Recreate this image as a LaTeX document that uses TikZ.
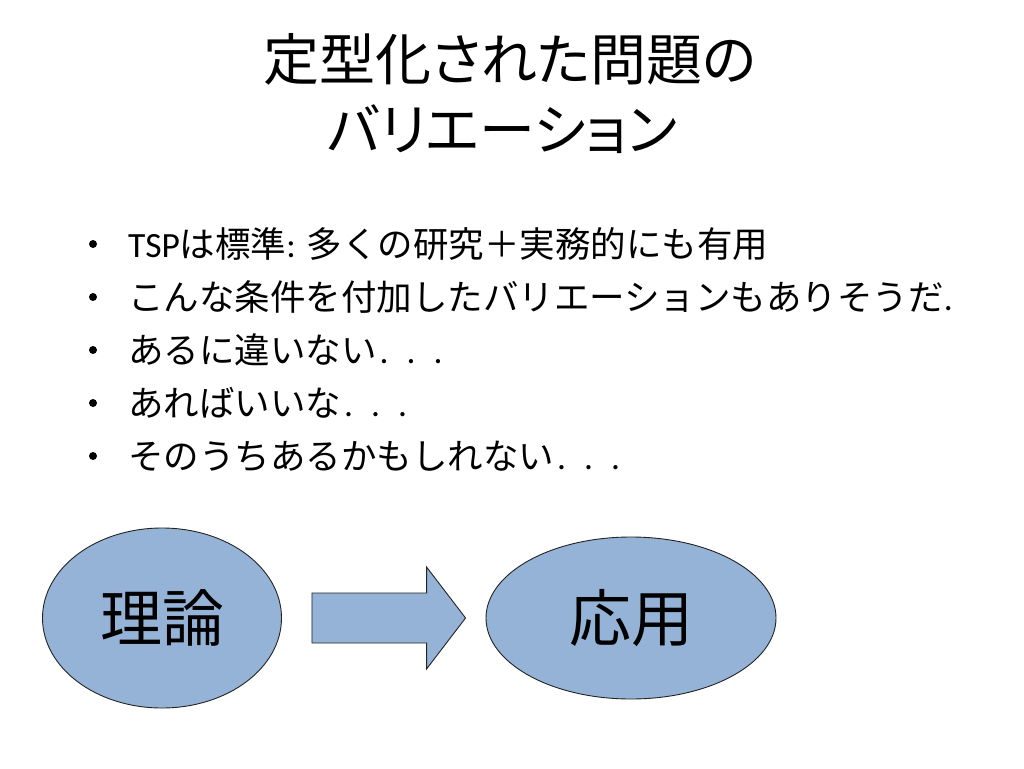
\documentclass[tikz,border=0pt]{standalone}
\usepackage{fontspec}
\setmainfont{Noto Sans CJK JP}
\newfontfamily\latin{Carlito}
\newfontfamily\headfont[RawFeature=+palt]{Noto Sans CJK JP}
\usetikzlibrary{calc,shapes.geometric}
\definecolor{ppblue}{RGB}{149,179,215}
\definecolor{ppline}{RGB}{35,35,35}
\newcommand\spdots{{\latin\hspace{3pt}.\hspace{18pt}.\hspace{18pt}.}}

\begin{document}
\begin{tikzpicture}[x=1pt, y=-1pt,
  headline/.style={anchor=base, inner sep=0pt, font=\headfont\fontsize{56}{60}\selectfont},
  item/.style={anchor=base west, inner sep=0pt, font=\fontsize{35.5}{40}\selectfont},
  blob/.style={ellipse, draw=ppline, fill=ppblue, line width=0.9pt, inner sep=0pt,
    font=\fontsize{62}{62}\selectfont, text height=54.5pt, text depth=7.5pt},
  fatarrow/.style={draw=ppline, fill=ppblue, line width=0.9pt, line join=miter}]
\useasboundingbox[fill=white] (0,0) rectangle (1024,768);

% Title
\node[headline] (title) at (510,81) {定型化された問題の};
\node[headline] (subtitle) at (502,150) {バリエーション};

% Bullets
\foreach \i/\t in {1/{{\latin TSP}は標準{\latin :} 多くの研究＋実務的にも有用},
    2/{こんな条件を付加したバリエーションもありそうだ{\latin .}},
    3/{あるに違いない\spdots},
    4/{あればいいな\spdots},
    5/{そのうちあるかもしれない\spdots}} {
    \node[item] (item\i) at (128,{257+53*(\i-1)}) {\t};
    \fill (93,{244+53*(\i-1)}) circle (4pt);
}

% Theory -> practice
\node[blob, minimum width=239, minimum height=180] (theory) at (162,618) {理論};
\node[blob, minimum width=290, minimum height=162] (practice) at (631,618) {応用};

\draw[fatarrow] ($(theory.east)+(30,-25)$) -- ($(practice.west)+(-59,-25)$)
    -- ($(practice.west)+(-59,-51)$) -- ($(practice.west)+(-20,0)$)
    -- ($(practice.west)+(-59,51)$) -- ($(practice.west)+(-59,25)$)
    -- ($(theory.east)+(30,25)$) -- cycle;
\end{tikzpicture}
\end{document}
